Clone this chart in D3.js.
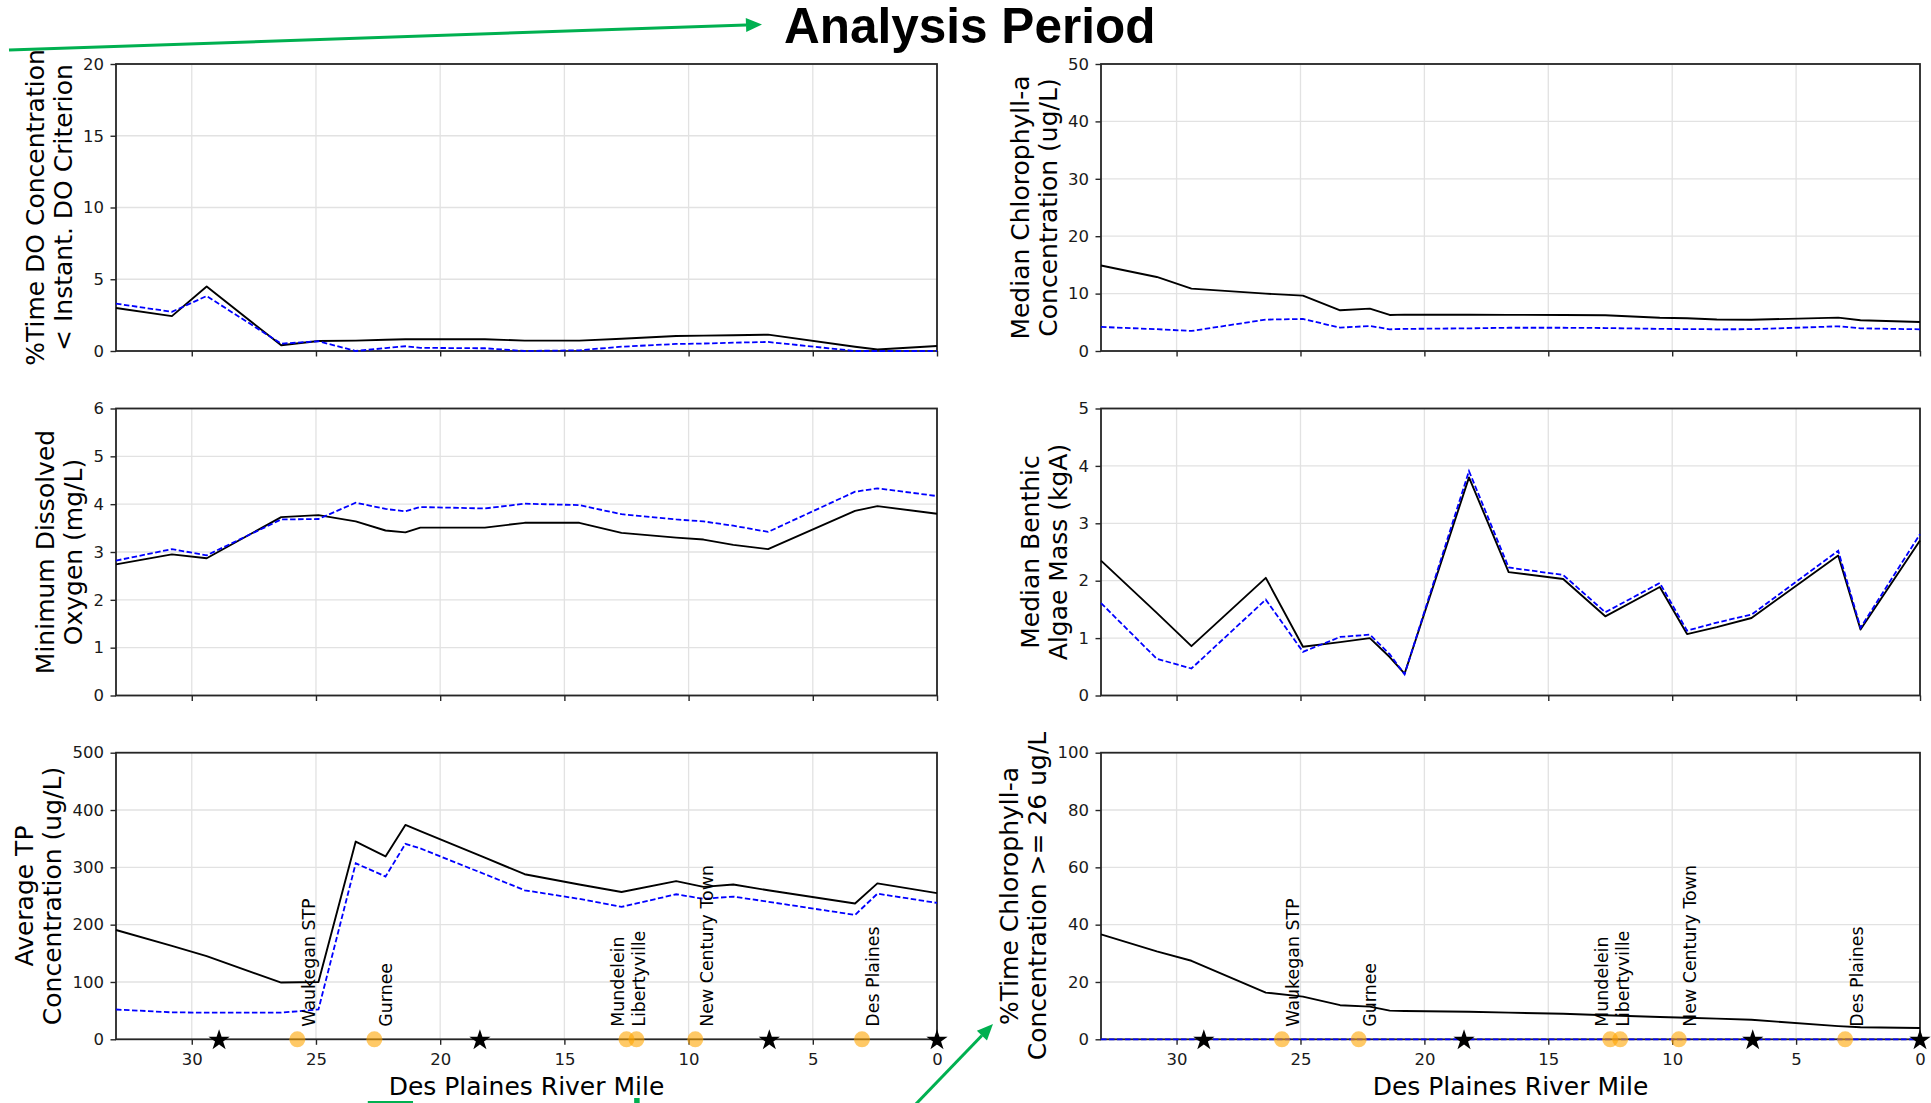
<!DOCTYPE html>
<html>
<head>
<meta charset="utf-8">
<script src="https://cdn.jsdelivr.net/npm/d3@7"></script>
<style>
  body { margin: 0; background: #ffffff; }
  svg { display: block; }
</style>
</head>
<body>
<svg id="fig" width="1931" height="1103"></svg>
<script>
// River miles of the model segment end points (upstream -> downstream)
const riverMile = [33.05, 30.8, 29.4, 26.4, 24.9, 23.4, 22.2, 21.4, 20.8, 18.2, 16.6, 14.4, 12.7, 10.5, 9.4, 8.2, 6.8, 3.3, 2.4, 0];

// %Time DO concentration < instantaneous DO criterion
const doLowBase = [3.0, 2.43, 4.49, 0.40, 0.70, 0.72, 0.78, 0.82, 0.82, 0.82, 0.72, 0.72, 0.85, 1.05, 1.07, 1.10, 1.14, 0.30, 0.10, 0.35];
const doLowAlt  = [3.3, 2.73, 3.83, 0.51, 0.68, 0.0, 0.20, 0.33, 0.22, 0.19, 0.0, 0.05, 0.30, 0.49, 0.52, 0.58, 0.63, 0.0, 0.0, 0.0];

// Median chlorophyll-a (ug/L)
const chlMedBase = [14.9, 12.9, 10.87, 10.0, 9.65, 7.09, 7.38, 6.28, 6.34, 6.32, 6.30, 6.28, 6.22, 5.80, 5.70, 5.50, 5.45, 5.81, 5.35, 5.06];
const chlMedAlt  = [4.19, 3.80, 3.49, 5.47, 5.58, 4.07, 4.36, 3.78, 3.85, 3.95, 4.05, 4.05, 4.00, 3.85, 3.82, 3.78, 3.80, 4.30, 3.95, 3.78];

// Minimum dissolved oxygen (mg/L)
const minDoBase = [2.74, 2.95, 2.87, 3.73, 3.77, 3.64, 3.45, 3.41, 3.51, 3.51, 3.61, 3.61, 3.40, 3.30, 3.26, 3.15, 3.06, 3.86, 3.96, 3.80];
const minDoAlt  = [2.82, 3.06, 2.93, 3.68, 3.69, 4.03, 3.90, 3.85, 3.94, 3.91, 4.01, 3.98, 3.79, 3.68, 3.64, 3.55, 3.42, 4.26, 4.33, 4.17];

// Median benthic algae mass (kgA)
const algaeBase = [2.35, 1.44, 0.86, 2.05, 0.85, 0.93, 1.00, 0.67, 0.38, 3.80, 2.15, 2.03, 1.38, 1.89, 1.07, 1.19, 1.35, 2.44, 1.15, 2.70];
const algaeAlt  = [1.61, 0.64, 0.47, 1.67, 0.76, 1.02, 1.06, 0.72, 0.37, 3.91, 2.23, 2.10, 1.45, 1.96, 1.13, 1.27, 1.41, 2.52, 1.18, 2.81];

// Average total phosphorus (ug/L)
const tpBase = [190.7, 163, 145, 99, 100, 345, 319, 374, 363, 317, 288, 270, 257, 276, 266, 270, 260, 237, 272, 255];
const tpAlt  = [52, 47, 46.5, 46.5, 52, 307, 284, 341, 333, 288, 260, 245, 231, 253, 245, 249, 240, 217, 254, 238];

// %Time chlorophyll-a >= 26 ug/L
const chlExBase = [36.6, 30.7, 27.4, 16.3, 14.9, 11.9, 11.4, 10.0, 9.9, 9.6, 9.3, 8.9, 8.4, 7.8, 7.5, 7.2, 6.8, 4.6, 4.2, 3.95];
const chlExAlt  = [0, 0, 0, 0, 0, 0, 0, 0, 0, 0, 0, 0, 0, 0, 0, 0, 0, 0, 0, 0];

// Monitoring stations (stars) and point sources / towns (circles)
const starMiles = [28.9, 18.4, 6.75, 0.0];
const siteNames = ["Waukegan STP", "Gurnee", "Mundelein", "Libertyville", "New Century Town", "Des Plaines"];
const siteMiles = [25.75, 22.65, 12.5, 12.1, 9.73, 3.02];

// Axis ticks
const xTicks = [30, 25, 20, 15, 10, 5, 0];
const yTicksDoLow = [0, 5, 10, 15, 20];
const yTicksChlMed = [0, 10, 20, 30, 40, 50];
const yTicksMinDo = [0, 1, 2, 3, 4, 5, 6];
const yTicksAlgae = [0, 1, 2, 3, 4, 5];
const yTicksTp = [0, 100, 200, 300, 400, 500];
const yTicksChlEx = [0, 20, 40, 60, 80, 100];

const title = "Analysis Period";
const xLabel = "Des Plaines River Mile";

// ---- layout ----
const svg = d3.select("#fig");
const cols = [[116, 937], [1101, 1920]];
const rows = [[64, 351], [408.5, 695.5], [752.7, 1039.3]];
const GREEN = "#00b050";
const TICK_FONT = "DejaVu Sans, sans-serif";

const panels = [
  { col: 0, row: 0, ticks: yTicksDoLow, base: doLowBase, alt: doLowAlt, label: ["%Time DO Concentration", "< Instant. DO Criterion"] },
  { col: 1, row: 0, ticks: yTicksChlMed, base: chlMedBase, alt: chlMedAlt, label: ["Median Chlorophyll-a", "Concentration (ug/L)"] },
  { col: 0, row: 1, ticks: yTicksMinDo, base: minDoBase, alt: minDoAlt, label: ["Minimum Dissolved", "Oxygen (mg/L)"] },
  { col: 1, row: 1, ticks: yTicksAlgae, base: algaeBase, alt: algaeAlt, label: ["Median Benthic", "Algae Mass (kgA)"] },
  { col: 0, row: 2, ticks: yTicksTp, base: tpBase, alt: tpAlt, label: ["Average TP", "Concentration (ug/L)"], sites: true },
  { col: 1, row: 2, ticks: yTicksChlEx, base: chlExBase, alt: chlExAlt, label: ["%Time Chlorophyll-a", "Concentration >= 26 ug/L"], sites: true }
];

// label nudges where two site names would collide
const labelShift = { "Mundelein": -20, "Libertyville": -9 };

function drawPanel(p) {
  const [left, right] = cols[p.col];
  const [top, bottom] = rows[p.row];
  const x = d3.scaleLinear().domain([33.05, 0]).range([left, right]);
  const y = d3.scaleLinear().domain([0, d3.max(p.ticks)]).range([bottom, top]);
  const g = svg.append("g");

  // grid
  g.append("g").selectAll("line").data(xTicks).join("line")
    .attr("x1", d => x(d)).attr("x2", d => x(d))
    .attr("y1", top).attr("y2", bottom)
    .attr("stroke", "#e2e2e2").attr("stroke-width", 1.3);
  g.append("g").selectAll("line").data(p.ticks).join("line")
    .attr("x1", left).attr("x2", right)
    .attr("y1", d => y(d)).attr("y2", d => y(d))
    .attr("stroke", "#e2e2e2").attr("stroke-width", 1.3);

  // axes
  const yAxis = g.append("g").attr("transform", `translate(${left},0)`)
    .call(d3.axisLeft(y).tickValues(p.ticks).tickSize(5.5).tickSizeOuter(0).tickPadding(6.5).tickFormat(d3.format("d")));
  const xAxis = g.append("g").attr("transform", `translate(0,${bottom})`)
    .call(d3.axisBottom(x).tickValues(xTicks).tickSize(5.5).tickSizeOuter(0).tickPadding(8.5)
      .tickFormat(p.sites ? d3.format("d") : () => ""));
  [yAxis, xAxis].forEach(a => {
    a.select(".domain").remove();
    a.selectAll(".tick line").attr("stroke", "#262626").attr("stroke-width", 1.4);
    a.selectAll(".tick text").attr("font-family", TICK_FONT).attr("font-size", 16.5).attr("fill", "#1a1a1a");
  });

  // frame
  g.append("rect").attr("x", left).attr("y", top)
    .attr("width", right - left).attr("height", bottom - top)
    .attr("fill", "none").attr("stroke", "#262626").attr("stroke-width", 1.8);

  // series
  const line = d3.line().x((d, i) => x(riverMile[i])).y(d => y(d));
  g.append("path").datum(p.base).attr("d", line)
    .attr("fill", "none").attr("stroke", "#000").attr("stroke-width", 1.9).attr("stroke-linejoin", "round");
  g.append("path").datum(p.alt).attr("d", line)
    .attr("fill", "none").attr("stroke", "#0000ff").attr("stroke-width", 1.8)
    .attr("stroke-dasharray", "5.5,2.5");

  // y label, two lines, placed left of the tick labels
  let minX = Infinity;
  yAxis.selectAll(".tick text").each(function () {
    minX = Math.min(minX, left + this.getBBox().x);
  });
  const baseX = minX - 11.5;
  const cy = (top + bottom) / 2;
  const lbl = g.append("text")
    .attr("transform", `translate(${baseX},${cy}) rotate(-90)`)
    .attr("text-anchor", "middle")
    .attr("font-family", TICK_FONT).attr("font-size", 25).attr("fill", "#000");
  lbl.append("tspan").attr("x", 0).attr("y", -28).text(p.label[0]);
  lbl.append("tspan").attr("x", 0).attr("y", 0).text(p.label[1]);

  if (p.sites) {
    // x label
    g.append("text").attr("x", (left + right) / 2).attr("y", 1095)
      .attr("text-anchor", "middle").attr("font-family", TICK_FONT).attr("font-size", 25)
      .attr("fill", "#000").text(xLabel);

    // site circles
    g.append("g").selectAll("circle").data(siteMiles).join("circle")
      .attr("cx", d => x(d)).attr("cy", y(0)).attr("r", 8)
      .attr("fill", "orange").attr("fill-opacity", 0.6);

    // station stars
    g.append("g").selectAll("path").data(starMiles).join("path")
      .attr("d", d3.symbol(d3.symbolStar, 140))
      .attr("transform", d => `translate(${x(d)},${y(0) + 1})`)
      .attr("fill", "#000");

    // site names
    g.append("g").selectAll("text").data(siteNames).join("text")
      .attr("transform", (d, i) => `translate(${x(siteMiles[i]) + 17.5 + (labelShift[d] || 0)},${bottom - 12.6}) rotate(-90)`)
      .attr("font-family", TICK_FONT).attr("font-size", 17.4).attr("fill", "#000")
      .text(d => d);
  }
}

panels.forEach(drawPanel);

// ---- slide annotations ----
svg.append("text").attr("x", 784).attr("y", 43)
  .attr("font-family", "Liberation Sans, Arial, sans-serif").attr("font-weight", "bold")
  .attr("font-size", 49.5).attr("fill", "#000").text(title);

function arrow(x0, y0, x1, y1) {
  const ang = Math.atan2(y1 - y0, x1 - x0);
  const len = 16, half = 7;
  const bx = x1 - len * Math.cos(ang), by = y1 - len * Math.sin(ang);
  svg.append("line").attr("x1", x0).attr("y1", y0).attr("x2", bx).attr("y2", by)
    .attr("stroke", GREEN).attr("stroke-width", 3);
  const px = -Math.sin(ang) * half, py = Math.cos(ang) * half;
  svg.append("path")
    .attr("d", `M${x1},${y1}L${bx + px},${by + py}L${bx - px},${by - py}Z`)
    .attr("fill", GREEN);
}
arrow(9, 50, 762, 24.5);
arrow(914, 1106, 993, 1024);

// lower caption text running off the page
svg.append("text").attr("x", 366).attr("y", 1156)
  .attr("font-family", "Liberation Sans, Arial, sans-serif").attr("font-size", 80)
  .attr("fill", GREEN).text("T");
svg.append("text").attr("x", 630).attr("y", 1142)
  .attr("font-family", "Liberation Sans, Arial, sans-serif").attr("font-size", 62)
  .attr("fill", GREEN).text("l");
</script>
</body>
</html>
